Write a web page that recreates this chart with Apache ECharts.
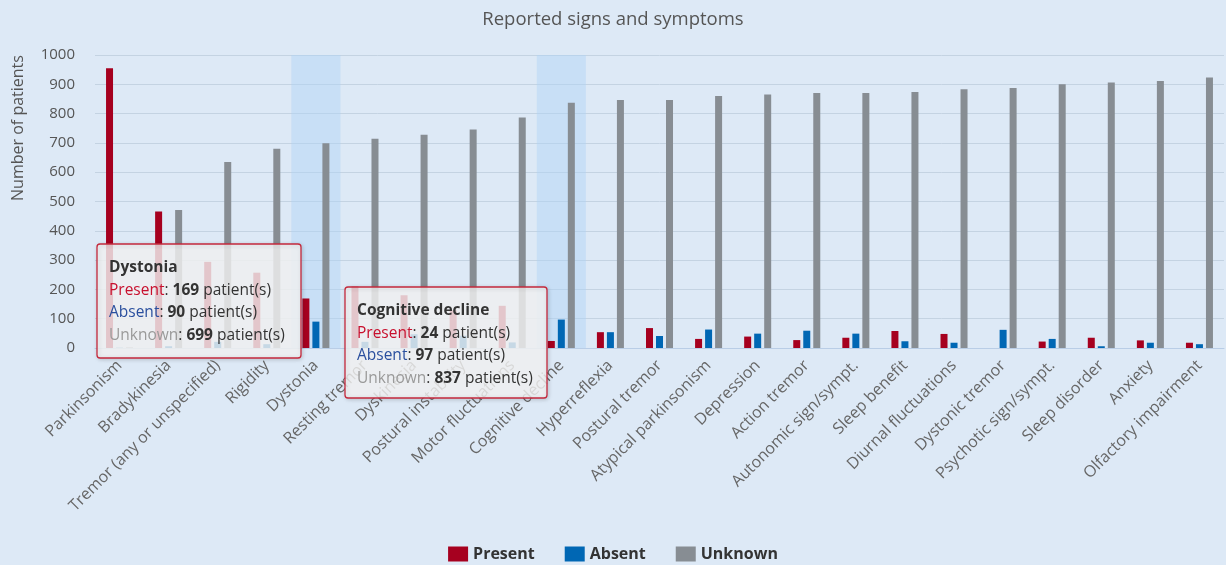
<!DOCTYPE html>
<html>
<head>
<meta charset="utf-8">
<script src="https://cdn.jsdelivr.net/npm/echarts@6/dist/echarts.min.js"></script>
<style>
html,body{margin:0;padding:0;background:#dde9f6;}
#chart{width:1226px;height:565px;}
</style>
</head>
<body>
<div id="chart"></div>
<script>
const categories = ['Parkinsonism','Bradykinesia','Tremor (any or unspecified)','Rigidity','Dystonia','Resting tremor','Dyskinesia','Postural instability','Motor fluctuations','Cognitive decline','Hyperreflexia','Postural tremor','Atypical parkinsonism','Depression','Action tremor','Autonomic sign/sympt.','Sleep benefit','Diurnal fluctuations','Dystonic tremor','Psychotic sign/sympt.','Sleep disorder','Anxiety','Olfactory impairment'];
const present = [955, 466, 294, 257, 169, 209, 180, 129, 144, 24, 54, 68, 31, 39, 27, 35, 58, 48, 0, 22, 35, 26, 18];
const absent  = [1, 6, 21, 13, 90, 21, 47, 42, 19, 97, 54, 41, 63, 49, 59, 49, 23, 18, 62, 31, 6, 18, 13];
const unknown = [2, 471, 635, 680, 699, 714, 728, 746, 787, 837, 846, 846, 860, 865, 870, 870, 874, 883, 887, 900, 906, 911, 923];
const seriesNames = ['Present','Absent','Unknown'];
const yTicks = [0,100,200,300,400,500,600,700,800,900,1000];
const hovered = ['Dystonia','Cognitive decline'];

const yMax = yTicks[yTicks.length-1];
const band = categories.map(c => hovered.indexOf(c) >= 0 ? yMax : null);
const font = 'Open Sans';

function tipText(cat){
  const i = categories.indexOf(cat);
  return '{t|' + cat + '}\n' +
    '{p|' + seriesNames[0] + '}{c|: }{b|' + present[i] + '}{c| patient(s)}\n' +
    '{a|' + seriesNames[1] + '}{c|: }{b|' + absent[i] + '}{c| patient(s)}\n' +
    '{u|' + seriesNames[2] + '}{c|: }{b|' + unknown[i] + '}{c| patient(s)}';
}
const fs = 15.5;
const rich = {
  t:{fontFamily:font,fontSize:fs,fontWeight:'bold',fill:'#333',lineHeight:23},
  p:{fontFamily:font,fontSize:fs,fill:'#c8102e',lineHeight:22.5},
  a:{fontFamily:font,fontSize:fs,fill:'#2a4f9e',lineHeight:22.5},
  u:{fontFamily:font,fontSize:fs,fill:'#9a9a9a',lineHeight:22.5},
  b:{fontFamily:font,fontSize:fs,fontWeight:'bold',fill:'#333',lineHeight:22.5},
  c:{fontFamily:font,fontSize:fs,fill:'#333',lineHeight:22.5}
};
function tipBox(cat, x, y, w, h){
  return [
    {type:'rect', shape:{x:x,y:y,width:w,height:h,r:3}, z:100, zlevel:1,
     style:{fill:'rgba(247,247,247,0.8)',stroke:'#c4283c',lineWidth:1.3,
            shadowBlur:4,shadowOffsetX:1,shadowOffsetY:1,shadowColor:'rgba(0,0,0,0.18)'}},
    {type:'text', x:x+12, y:y+12, z:101, zlevel:1,
     style:{text:tipText(cat), rich:rich, fontFamily:font, fontSize:fs, fill:'#333'}}
  ];
}

const chart = echarts.init(document.getElementById('chart'), null, {renderer:'canvas'});
chart.setOption({
  backgroundColor:'#dde9f6',
  animation:false,
  title:{text:'Reported signs and symptoms',left:'center',top:5,
    textStyle:{fontFamily:font,fontSize:18.5,fontWeight:'normal',color:'#555'}},
  legend:{data:seriesNames,bottom:3,left:'center',padding:0,icon:'rect',itemWidth:20,itemHeight:15,itemGap:30,
    textStyle:{fontFamily:font,fontSize:16,fontWeight:'bold',color:'#333'}},
  grid:{left:95,right:2,top:55,bottom:217,containLabel:false},
  xAxis:[{
    type:'category', data:categories,
    axisLine:{lineStyle:{color:'#b9cde6',width:1}},
    axisTick:{length:9,lineStyle:{color:'#b9cde6'}},
    axisLabel:{rotate:45,fontFamily:font,fontSize:16,color:'#666',margin:15,interval:0}
  },{
    type:'category', data:categories, show:false
  }],
  yAxis:{
    type:'value', min:0, max:yMax, interval:100,
    axisLine:{show:false}, axisTick:{show:false},
    axisLabel:{fontFamily:font,fontSize:15,color:'#555',margin:20,formatter:function(v){return String(v);}},
    splitLine:{lineStyle:{color:'#c4d3e2',width:1}}
  },
  series:[
    {name:'hover', type:'bar', xAxisIndex:1, data:band, barWidth:'100%', silent:true, z:1,
     itemStyle:{color:'rgba(175,210,246,0.45)'}},
    {name:seriesNames[0], type:'bar', data:present, barWidth:7, barGap:'43%', z:3, itemStyle:{color:'#a6001f'}},
    {name:seriesNames[1], type:'bar', data:absent, barWidth:7, barGap:'43%', z:3, itemStyle:{color:'#0067b4'}},
    {name:seriesNames[2], type:'bar', data:unknown, barWidth:7, barGap:'43%', z:3, itemStyle:{color:'#878d93'}}
  ],
  graphic:[
    {type:'text', x:18, y:128, rotation:Math.PI/2, z:50,
     style:{text:'Number of patients', fontFamily:font, fontSize:16, fill:'#555', align:'center', verticalAlign:'middle'}}
  ].concat(tipBox('Dystonia', 97, 244, 204, 114), tipBox('Cognitive decline', 345, 287, 202, 111))
});
</script>
</body>
</html>
